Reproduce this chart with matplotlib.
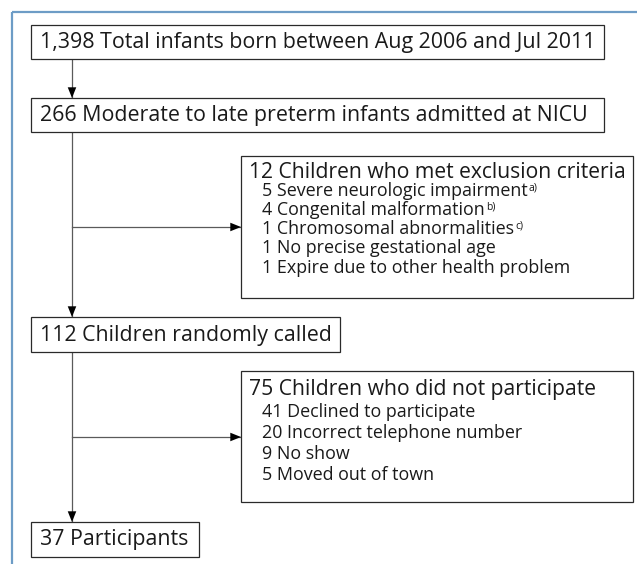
import matplotlib
matplotlib.use("Agg")
import matplotlib.pyplot as plt
from matplotlib.patches import Rectangle

# ---- data (text content of the flowchart) ----
main_labels = [
    "1,398 Total infants born between Aug 2006 and Jul 2011",
    "266 Moderate to late preterm infants admitted at NICU",
    "112 Children randomly called",
    "37 Participants",
]
excl_header = "12 Children who met exclusion criteria"
excl_items = [
    "5 Severe neurologic impairment",
    "4 Congenital malformation",
    "1 Chromosomal abnormalities",
    "1 No precise gestational age",
    "1 Expire due to other health problem",
]
excl_notes = ["a)", "b)", "c)", "", ""]
nonpart_header = "75 Children who did not participate"
nonpart_items = [
    "41 Declined to participate",
    "20 Incorrect telephone number",
    "9 No show",
    "5 Moved out of town",
]

# ---- layout (pixels) ----
W, H = 637, 564
FONT = ["Open Sans", "DejaVu Sans"]
FS_MAIN = 15.4
FS_HEAD = 15.2
FS_ITEM = 12.9
FS_NOTE = 7.5
BOX_EC = "#2a2a2a"
LINE_C = "#5a5a5a"
FRAME_C = "#6d9cc6"
TXT_C = "#1a1a1a"

main_boxes = [(31, 25, 604, 59), (31, 98, 604, 132), (31, 317, 340, 352), (31, 522, 199, 557)]
side_boxes = [(241, 156, 633, 298), (241, 371, 633, 502)]
spine_x = 72

fig = plt.figure(figsize=(W / 100, H / 100), dpi=100)
ax = fig.add_axes([0, 0, 1, 1])
ax.set_xlim(0, W)
ax.set_ylim(H, 0)
ax.axis("off")

# outer frame lines
ax.plot([12, 12], [12, H + 5], color=FRAME_C, lw=1.6, solid_capstyle="butt", clip_on=False)
ax.plot([12, W + 5], [12, 12], color=FRAME_C, lw=1.6, solid_capstyle="butt", clip_on=False)


def box(x0, y0, x1, y1):
    ax.add_patch(Rectangle((x0, y0), x1 - x0, y1 - y0, fill=True, fc="white",
                           ec=BOX_EC, lw=0.9, zorder=3))


def arrow(x0, y0, x1, y1):
    ax.plot([x0, x1], [y0, y1], color=LINE_C, lw=0.9, zorder=2)
    ax.annotate("", xy=(x1, y1), xytext=(x0, y0),
                arrowprops=dict(arrowstyle="-|>,head_length=0.55,head_width=0.22",
                                color="black", lw=0, shrinkA=0, shrinkB=0,
                                mutation_scale=14), zorder=4)


for (x0, y0, x1, y1), lab in zip(main_boxes, main_labels):
    box(x0, y0, x1, y1)
    ax.text(x0 + 9, (y0 + y1) / 2 + 0.5, lab, fontsize=FS_MAIN, family=FONT,
            va="center", ha="left", color=TXT_C, zorder=5)

for (x0, y0, x1, y1) in side_boxes:
    box(x0, y0, x1, y1)

# vertical spine arrows
arrow(spine_x, main_boxes[0][3], spine_x, main_boxes[1][1])
arrow(spine_x, main_boxes[1][3], spine_x, main_boxes[2][1])
arrow(spine_x, main_boxes[2][3], spine_x, main_boxes[3][1])
# branch arrows
arrow(spine_x, 227, side_boxes[0][0], 227)
arrow(spine_x, 437, side_boxes[1][0], 437)

fig.canvas.draw()
renderer = fig.canvas.get_renderer()
inv = ax.transData.inverted()

# exclusion box text
bx0 = side_boxes[0][0]
ax.text(bx0 + 8, 172, excl_header, fontsize=FS_HEAD, family=FONT, va="center",
        ha="left", color=TXT_C, zorder=5)
ys = [191, 210, 229, 248, 268]
for y, item, note in zip(ys, excl_items, excl_notes):
    t = ax.text(bx0 + 21, y, item, fontsize=FS_ITEM, family=FONT, va="center",
                ha="left", color=TXT_C, zorder=5)
    if note:
        bb = t.get_window_extent(renderer=renderer)
        xr = inv.transform((bb.x1, bb.y1))[0]
        ax.text(xr + 1, y - 3, note, fontsize=FS_NOTE, family=FONT, va="center",
                ha="left", color=TXT_C, zorder=5)

# non-participation box text
bx0 = side_boxes[1][0]
ax.text(bx0 + 8, 390, nonpart_header, fontsize=FS_HEAD, family=FONT, va="center",
        ha="left", color=TXT_C, zorder=5)
ys = [412, 433, 454, 475]
for y, item in zip(ys, nonpart_items):
    ax.text(bx0 + 21, y, item, fontsize=FS_ITEM, family=FONT, va="center",
            ha="left", color=TXT_C, zorder=5)

fig.savefig("out.png", dpi=100)
